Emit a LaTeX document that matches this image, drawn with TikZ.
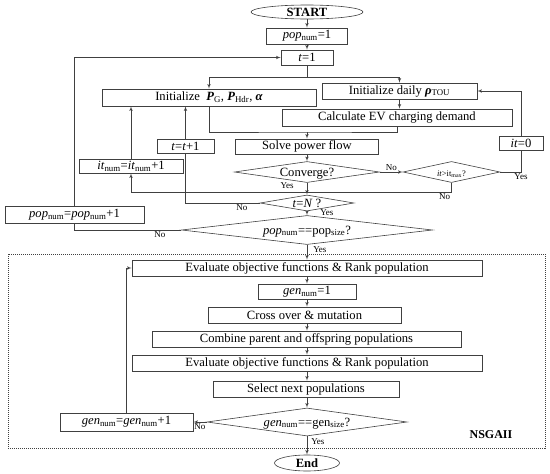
\documentclass[tikz,border=0pt]{standalone}
\usepackage{fontspec}
\setmainfont{Liberation Serif}
\usetikzlibrary{positioning, shapes.geometric, arrows, calc}

\begin{document}
\begin{tikzpicture}[
    x=1pt, y=-1pt,
    font=\fontsize{12.6}{14}\selectfont,
    proc/.style={draw=black!75, line width=0.6pt, inner sep=0pt, minimum height=16pt},
    decide/.style={diamond, draw=black!75, line width=0.6pt, inner sep=0pt, text height=8pt, text depth=0pt},
    term/.style={ellipse, draw=black!75, line width=0.6pt, inner sep=0pt, font=\fontsize{12.6}{14}\selectfont\bfseries},
    line/.style={draw=black!75, line width=0.6pt, -latex'},
    lbl/.style={font=\fontsize{9}{10}\selectfont, inner sep=1pt}
]
\useasboundingbox (0,0) rectangle (550,474);

% Nodes
\node[term, minimum width=112pt, minimum height=14pt] (start) at (307,12) {START};
\node[proc, minimum width=81pt] (popone) at (307,36) {\textit{pop}\textsubscript{num}=1};
\node[proc, minimum width=52pt, minimum height=15pt] (tone) at (307,57.5) {\textit{t}=1};
\node[proc, minimum width=214pt, minimum height=17pt] (initp) at (209,97.5) {Initialize\ \ \textbf{\textit{P}}\textsubscript{G}, \textbf{\textit{P}}\textsubscript{Hdr}, \textbf{\textit{α}}};
\node[proc, minimum width=155pt] (initrho) at (399.5,91) {Initialize daily \textbf{\textit{ρ}}\textsubscript{TOU}};
\node[proc, minimum width=230pt, minimum height=17pt] (calcev) at (397,117.5) {Calculate EV charging demand};
\node[proc, minimum width=143pt, minimum height=15pt] (solve) at (307,146.5) {Solve power flow};
\node[proc, minimum width=57pt, minimum height=14pt] (tinc) at (185.5,146) {\textit{t}=\textit{t}+1};
\node[proc, minimum width=104pt, minimum height=14pt] (itnum) at (131,166) {\textit{it}\textsubscript{num}=\textit{it}\textsubscript{num}+1};
\node[proc, minimum width=44pt, minimum height=14pt] (itzero) at (521,143) {\textit{it}=0};
\node[decide, minimum width=145pt, minimum height=21pt, aspect=6.9] (conv) at (307,172) {Converge?};
\node[decide, minimum width=97pt, minimum height=21pt, aspect=4.6, font=\fontsize{8.5}{10}\selectfont] (itmax) at (451.5,172) {\textit{it}>it\textsubscript{max}?};
\node[decide, minimum width=94pt, minimum height=16pt, aspect=5.9] (tn) at (307,203) {\textit{t}=\textit{N} ?};
\node[proc, minimum width=139pt, minimum height=17pt] (popinc) at (74.5,214.5) {\textit{pop}\textsubscript{num}=\textit{pop}\textsubscript{num}+1};
\node[decide, minimum width=251pt, minimum height=29pt, aspect=8.7] (popsz) at (307,230) {\textit{pop}\textsubscript{num}==pop\textsubscript{size}?};
\node[proc, minimum width=350pt] (evalone) at (307,268) {Evaluate objective functions \& Rank population};
\node[proc, minimum width=98pt, minimum height=15pt] (genone) at (307,291.5) {\textit{gen}\textsubscript{num}=1};
\node[proc, minimum width=193pt] (cross) at (304.5,315) {Cross over \& mutation};
\node[proc, minimum width=309pt] (comb) at (306.5,339) {Combine parent and offspring populations};
\node[proc, minimum width=350pt] (evaltwo) at (307,363) {Evaluate objective functions \& Rank population};
\node[proc, minimum width=186pt] (select) at (306,389) {Select next populations};
\node[decide, minimum width=200pt, minimum height=28pt, aspect=7.1] (gendia) at (307,422) {\textit{gen}\textsubscript{num}==gen\textsubscript{size}?};
\node[proc, minimum width=133pt, minimum height=18pt] (geninc) at (126.5,422) {\textit{gen}\textsubscript{num}=\textit{gen}\textsubscript{num}+1};
\node[term, minimum width=65pt, minimum height=16pt] (stop) at (307,463) {End};
\node[font=\fontsize{12}{14}\selectfont\bfseries] (nsga) at (491,435) {NSGAII};

% NSGAII frame
\draw[black!75, line width=0.7pt, dash pattern=on 1pt off 1pt] (8,254) rectangle (545,448);

% Edges
\draw[line] (start) -- (popone);
\draw[line] (popone) -- (tone);
\coordinate (split) at (307,77);
\draw[line, -] (tone) -- (split);
\draw[line] (split) -| (initp);
\draw[line] (split) -| (initrho);
\draw[line] (initrho.south) -- (initrho.south |- calcev.north);
\coordinate (merge) at (307,132);
\draw[line, -] (initp.south) |- (merge) -| (calcev.south);
\draw[line] (merge) -- (solve);
\draw[line] (solve) -- (conv);
\draw[line] (conv) -- node[lbl, above] {No} (itmax);
\draw[line, -] (itmax.east) -| node[lbl, below] {Yes} (itzero.south);
\draw[line] (itzero.north) |- (initrho.east);
\draw[line] (itmax.south) |- node[lbl, below left] {No} ([yshift=-19pt]itnum.south) -- (itnum.south);
\draw[line] (itnum.north) -- (itnum.north |- initp.south);
\draw[line] (conv) -- node[lbl, pos=0.25, left=12pt] {Yes} (tn);
\draw[line, -] (tn.west) -| node[lbl, pos=0.12, below] {No} (tinc.south);
\draw[line] (tinc.north) -- (tinc.north |- initp.south);
\draw[line] (tn) -- node[lbl, pos=0.4, right=12pt] {Yes} (popsz);
\draw[line, -] (popsz.west) -| node[lbl, pos=0.1, below] {No} (popinc.south);
\draw[line] (popinc.north) |- (tone.west);
\draw[line] (popsz) -- node[lbl, pos=0.35, right=5pt] {Yes} (evalone);
\draw[line] (evalone) -- (genone);
\draw[line] (genone) -- (genone |- cross.north);
\draw[line] (cross.south -| genone) -- (genone |- comb.north);
\draw[line] (comb.south -| genone) -- (genone |- evaltwo.north);
\draw[line] (evaltwo) -- (evaltwo |- select.north);
\draw[line] (select.south -| evaltwo) -- (gendia);
\draw[line] (gendia) -- node[lbl, below] {No} (geninc);
\draw[line] (geninc.north) |- (evalone.west);
\draw[line] (gendia) -- node[lbl, pos=0.3, right=3pt] {Yes} (stop);

\end{tikzpicture}
\end{document}
